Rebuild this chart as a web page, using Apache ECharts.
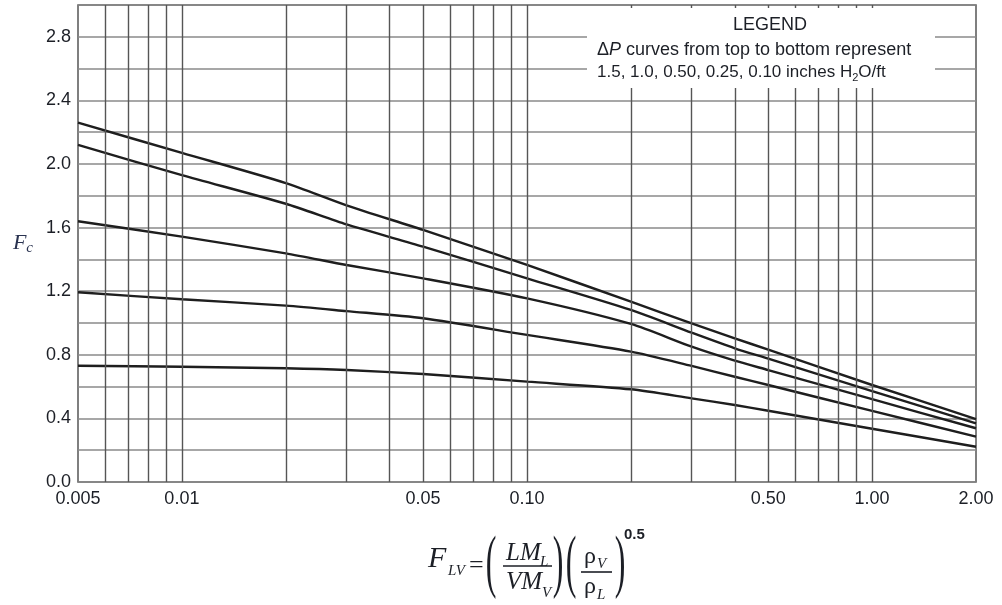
<!DOCTYPE html>
<html><head><meta charset="utf-8">
<script src="https://cdn.jsdelivr.net/npm/echarts@6/dist/echarts.min.js"></script>
<style>html,body{margin:0;padding:0;background:#fff}#c{width:1002px;height:605px}</style>
</head><body><div id="c"></div>
<script>
// F_LV values at which curves were read
const xValues = [0.005, 0.01, 0.02, 0.03, 0.05, 0.1, 0.2, 0.3, 0.4, 0.5, 1.0, 2.0];
// Fc for each ΔP curve (inches H2O/ft)
const dp150 = [2.26, 2.07, 1.88, 1.74, 1.585, 1.365, 1.134, 0.998, 0.904, 0.832, 0.61, 0.396];
const dp100 = [2.12, 1.93, 1.75, 1.62, 1.48, 1.281, 1.082, 0.939, 0.841, 0.776, 0.572, 0.369];
const dp050 = [1.64, 1.543, 1.438, 1.365, 1.281, 1.155, 0.994, 0.851, 0.763, 0.704, 0.521, 0.338];
const dp025 = [1.193, 1.149, 1.109, 1.075, 1.03, 0.925, 0.82, 0.73, 0.662, 0.61, 0.447, 0.285];
const dp010 = [0.731, 0.725, 0.715, 0.704, 0.679, 0.631, 0.583, 0.526, 0.484, 0.448, 0.335, 0.222];
const curveNames = ['1.5', '1.0', '0.50', '0.25', '0.10'];
// vertical grid lines (log cycles)
const xGridValues = [0.006, 0.007, 0.008, 0.009, 0.01, 0.02, 0.03, 0.04, 0.05, 0.06, 0.07, 0.08, 0.09, 0.1,
  0.2, 0.3, 0.4, 0.5, 0.6, 0.7, 0.8, 0.9, 1.0];
const xTickValues = [0.005, 0.01, 0.05, 0.1, 0.5, 1, 2];
const xTickLabels = ['0.005', '0.01', '0.05', '0.10', '0.50', '1.00', '2.00'];

const chart = echarts.init(document.getElementById('c'), null, {renderer: 'canvas'});
const curves = [dp150, dp100, dp050, dp025, dp010];
const ink = '#1e1e1e';
const txt = '#1c1f26';
const serif = "'Liberation Serif','DejaVu Serif',serif";
const sans = "'Liberation Sans',Arial,sans-serif";

const series = curves.map((c, i) => ({
  name: curveNames[i], type: 'line', z: 3, smooth: 0.25, symbol: 'none',
  lineStyle: {color: ink, width: 2.4}, emphasis: {disabled: true}, silent: true,
  data: xValues.map((x, j) => [x, c[j]])
}));
series.unshift({
  name: 'grid', type: 'line', z: 1, data: [], silent: true,
  markLine: {
    silent: true, symbol: ['none', 'none'], animation: false, precision: 6,
    lineStyle: {color: '#555', width: 1.4, type: 'solid'},
    label: {show: false}, emphasis: {disabled: true},
    data: xGridValues.map(v => ({xAxis: v}))
  }
});

const g = [];
function t(x, y, text, size, opts) {
  g.push(Object.assign({type: 'text', x: x, y: y, z: 50,
    style: Object.assign({text: text, fontSize: size, fontFamily: serif, fill: txt,
      align: 'left', verticalAlign: 'middle'}, opts && opts.style || {})}, opts && opts.el || {}));
}
// legend box
g.push({type: 'rect', z: 40, shape: {x: 587, y: 8, width: 348, height: 80}, style: {fill: '#fff'}});
g.push({type: 'text', z: 50, x: 770, y: 25, style: {text: 'LEGEND', fontSize: 18, fontFamily: sans, fill: txt, align: 'center', verticalAlign: 'middle'}});
g.push({type: 'text', z: 50, x: 597, y: 50, style: {
  text: '{n|Δ}{i|P}{n| curves from top to bottom represent}', fontFamily: sans, fill: txt, align: 'left', verticalAlign: 'middle',
  rich: {n: {fontSize: 18, fontFamily: sans, fill: txt, lineHeight: 20}, i: {fontSize: 18, fontFamily: sans, fontStyle: 'italic', fill: txt, lineHeight: 20}}}});
g.push({type: 'text', z: 50, x: 597, y: 72, style: {
  text: '{n|1.5, 1.0, 0.50, 0.25, 0.10 inches H}{s|2}{n|O/ft}', fontFamily: sans, fill: txt, align: 'left', verticalAlign: 'middle',
  rich: {n: {fontSize: 17, fontFamily: sans, fill: txt, lineHeight: 22, verticalAlign: 'middle'}, s: {fontSize: 11, fontFamily: sans, fill: txt, verticalAlign: 'bottom', lineHeight: 11}}}});

// x-axis formula
const it = {style: {fontStyle: 'italic'}};
t(428, 559, 'F', 30, it);
t(448, 571, 'LV', 15, it);
t(469, 566, '=', 26, {});
t(491, 566, '(', 32, {style: {align: 'center'}, el: {scaleY: 2.15}});
t(506, 553, 'LM', 25, it);
t(540, 562, 'L', 15, it);
g.push({type: 'line', z: 50, shape: {x1: 503, y1: 566, x2: 552, y2: 566}, style: {stroke: txt, lineWidth: 1.6}});
t(506, 582, 'VM', 25, it);
t(542, 593, 'V', 15, it);
t(558, 566, ')', 32, {style: {align: 'center'}, el: {scaleY: 2.15}});
t(571, 566, '(', 32, {style: {align: 'center'}, el: {scaleY: 2.15}});
t(584, 557, 'ρ', 24, {});
t(597, 564, 'V', 15, it);
g.push({type: 'line', z: 50, shape: {x1: 581, y1: 572, x2: 612, y2: 572}, style: {stroke: txt, lineWidth: 1.6}});
t(584, 587, 'ρ', 24, {});
t(597, 595, 'L', 15, it);
t(620, 566, ')', 32, {style: {align: 'center'}, el: {scaleY: 2.15}});
t(624, 535, '0.5', 15, {style: {fontFamily: sans, fontWeight: 'bold'}});

chart.setOption({
  animation: false,
  backgroundColor: '#fff',
  grid: {left: 78, right: 26, top: 5, bottom: 123, show: true, borderColor: '#555', borderWidth: 1.5, backgroundColor: 'transparent'},
  xAxis: {
    type: 'log', logBase: 10, min: 0.005, max: 2,
    axisLine: {show: false}, axisTick: {show: false}, splitLine: {show: false}, minorSplitLine: {show: false},
    axisLabel: {
      customValues: xTickValues, margin: 8, fontSize: 18, fontFamily: sans, color: txt,
      showMinLabel: true, showMaxLabel: true,
      formatter: function (v) {
        let best = 0, bd = Infinity;
        xTickValues.forEach((tv, i) => { const d = Math.abs(Math.log(tv) - Math.log(v)); if (d < bd) { bd = d; best = i; } });
        return xTickLabels[best];
      }
    }
  },
  yAxis: {
    type: 'value', min: 0, max: 3, interval: 0.2,
    name: '{f|F}{c|c}', nameLocation: 'middle', nameRotate: 0, nameGap: 45,
    nameTextStyle: {rich: {f: {fontSize: 22, fontFamily: serif, fontStyle: 'italic', color: '#2a3350'}, c: {fontSize: 15, fontFamily: serif, fontStyle: 'italic', color: '#2a3350', verticalAlign: 'bottom', padding: [10, 0, 0, 0]}}},
    axisLine: {show: false}, axisTick: {show: false},
    splitLine: {show: true, lineStyle: {color: '#8a8a8a', width: 1.6}},
    axisLabel: {
      margin: 7, fontSize: 18, fontFamily: sans, color: txt,
      formatter: v => (Math.round(v * 10) % 4 === 0 ? v.toFixed(1) : '')
    }
  },
  graphic: g,
  series: series
});
</script>
</body></html>
